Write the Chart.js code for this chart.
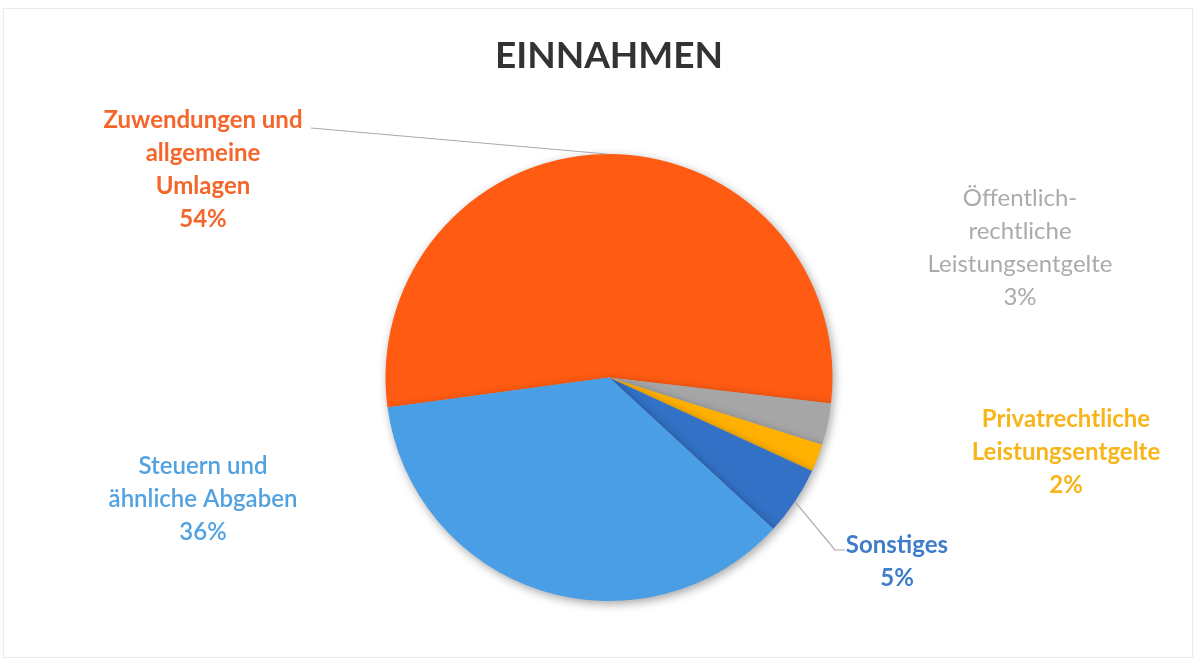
<!DOCTYPE html>
<html>
<head>
<meta charset="utf-8">
<script src="https://cdn.jsdelivr.net/npm/chart.js@4"></script>
<style>
  html, body { margin: 0; padding: 0; background: #fff; }
  #wrap { width: 1196px; height: 660px; position: relative; }
</style>
</head>
<body>
<div id="wrap"><canvas id="pie"></canvas></div>
<script>
// ===== data =====
const categories = [
  'Zuwendungen und allgemeine Umlagen',
  'Öffentlich-rechtliche Leistungsentgelte',
  'Privatrechtliche Leistungsentgelte',
  'Sonstiges',
  'Steuern und ähnliche Abgaben'
];
const shares = [54, 3, 2, 5, 36];
const labelLines = [
  ['Zuwendungen und', 'allgemeine', 'Umlagen'],
  ['Öffentlich-', 'rechtliche', 'Leistungsentgelte'],
  ['Privatrechtliche', 'Leistungsentgelte'],
  ['Sonstiges'],
  ['Steuern und', 'ähnliche Abgaben']
];

// ===== style =====
const sliceColors = ['#FF5B12', '#A6A6A6', '#FFB000', '#3271C6', '#4A9EE6'];
const textColors  = ['#F4662A', '#ABABAB', '#F7B519', '#3F7DCB', '#52A2E2'];
const textWeights = ['bold', 'normal', 'bold', 'bold', '600'];
// label block centre x / first line y, optional leader
const labelPos = [
  { x: 203, y: 120, leader: [[311, 128]] },
  { x: 1020, y: 198 },
  { x: 1066, y: 419 },
  { x: 897, y: 545, leader: [[835, 550], [845, 550]] },
  { x: 203, y: 466 }
];
const FONT = 'Lato, "Open Sans", sans-serif';

const shadowPlugin = {
  id: 'pieShadow',
  beforeDatasetsDraw(chart) {
    const ctx = chart.ctx;
    ctx.save();
    ctx.shadowColor = 'rgba(0,0,0,0.35)';
    ctx.shadowBlur = 10;
    ctx.shadowOffsetX = 2;
    ctx.shadowOffsetY = 3;
  },
  afterDatasetsDraw(chart) {
    chart.ctx.restore();
  }
};

const labelPlugin = {
  id: 'outLabels',
  afterDraw(chart) {
    const ctx = chart.ctx;
    const arcs = chart.getDatasetMeta(0).data;
    ctx.save();

    // frame
    ctx.strokeStyle = '#ebebeb';
    ctx.lineWidth = 1;
    ctx.strokeRect(3.5, 8.5, 1189, 649);

    arcs.forEach((arc, i) => {
      const p = labelPos[i];
      if (p.leader) {
        const mid = (arc.startAngle + arc.endAngle) / 2;
        const r = arc.outerRadius;
        ctx.beginPath();
        ctx.moveTo(arc.x + Math.cos(mid) * r, arc.y + Math.sin(mid) * r);
        p.leader.forEach(pt => ctx.lineTo(pt[0], pt[1]));
        ctx.strokeStyle = '#a9a9a9';
        ctx.lineWidth = 1.2;
        ctx.stroke();
      }
      const lines = labelLines[i].concat([shares[i] + '%']);
      ctx.fillStyle = textColors[i];
      ctx.font = textWeights[i] + ' 24px ' + FONT;
      ctx.textAlign = 'center';
      ctx.textBaseline = 'middle';
      lines.forEach((t, k) => ctx.fillText(t, p.x, p.y + k * 33));
    });
    ctx.restore();
  }
};

new Chart(document.getElementById('pie'), {
  type: 'pie',
  data: {
    labels: categories,
    datasets: [{
      data: shares,
      backgroundColor: sliceColors,
      borderWidth: 0
    }]
  },
  options: {
    responsive: true,
    maintainAspectRatio: false,
    animation: false,
    rotation: 262.3,
    layout: { padding: { top: 0, bottom: 59, left: 300, right: 278 } },
    plugins: {
      legend: { display: false },
      tooltip: { enabled: false },
      title: {
        display: true,
        text: 'EINNAHMEN',
        color: '#333333',
        font: { family: FONT, size: 37, weight: 'bold', lineHeight: 1.2 },
        padding: { top: 34, bottom: 75.6 }
      }
    }
  },
  plugins: [shadowPlugin, labelPlugin]
});
</script>
</body>
</html>
